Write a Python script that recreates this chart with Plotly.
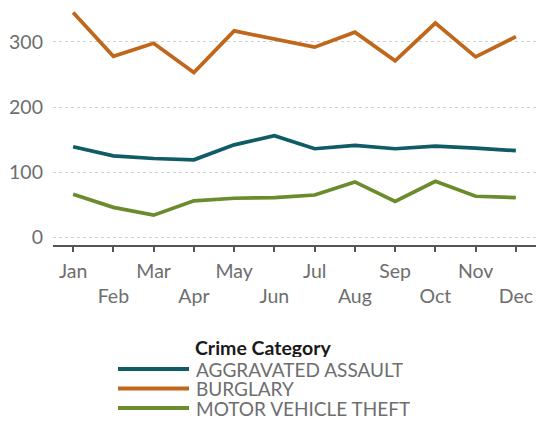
import plotly.graph_objects as go

months = ["Jan", "Feb", "Mar", "Apr", "May", "Jun",
          "Jul", "Aug", "Sep", "Oct", "Nov", "Dec"]
categories = ["AGGRAVATED ASSAULT", "BURGLARY", "MOTOR VEHICLE THEFT"]
aggravated_assault = [139, 125, 121, 119, 142, 156, 136, 141, 136, 140, 137, 133]
burglary = [345, 278, 298, 253, 317, 305, 292, 315, 271, 329, 277, 308]
motor_vehicle_theft = [66, 46, 34, 56, 60, 61, 65, 85, 55, 86, 63, 61]
y_ticks = [0, 100, 200, 300]

series = [aggravated_assault, burglary, motor_vehicle_theft]
colors = ["#0F5C66", "#C0671C", "#6B8C2C"]

FONT = "Lato, 'Open Sans', sans-serif"
GREY = "#6e6e6e"
TICK_SIZE = 19.5

fig = go.Figure()
idx = list(range(len(months)))
for name, vals, col in zip(categories, series, colors):
    fig.add_trace(go.Scatter(
        x=idx, y=vals, name=name, mode="lines",
        line=dict(color=col, width=3.7),
        showlegend=False,
        hovertemplate="%{text}: %{y}<extra>" + name + "</extra>",
        text=months,
    ))

# empty trace so the second-row month axis is drawn
fig.add_trace(go.Scatter(x=[], y=[], xaxis="x2", showlegend=False, hoverinfo="skip"))

odd_labels = [m if i % 2 == 0 else "" for i, m in enumerate(months)]
even_labels = [m if i % 2 == 1 else "" for i, m in enumerate(months)]

x_range = [-0.5, len(months) - 0.5]

fig.update_layout(
    width=538, height=421,
    margin=dict(l=53, r=2, t=5, b=176),
    paper_bgcolor="white", plot_bgcolor="white",
    font=dict(family=FONT, color=GREY, size=18),
    xaxis=dict(
        range=x_range, tickmode="array", tickvals=idx, ticktext=odd_labels,
        showgrid=False, zeroline=False,
        showline=True, linecolor="#555555", linewidth=1.5,
        ticks="outside", ticklen=5, tickwidth=1.5, tickcolor="#555555",
        tickfont=dict(size=TICK_SIZE, color=GREY, family=FONT),
        ticklabelstandoff=3,
    ),
    xaxis2=dict(
        overlaying="x", anchor="y", side="bottom",
        range=x_range, tickmode="array", tickvals=idx, ticktext=even_labels,
        showgrid=False, zeroline=False, showline=False, ticks="",
        tickfont=dict(size=TICK_SIZE, color=GREY, family=FONT),
        ticklabelstandoff=37,
    ),
    yaxis=dict(
        range=[-11.8, 356.7], tickmode="array", tickvals=y_ticks,
        showgrid=True, gridcolor="#cfcfcf", gridwidth=1, griddash="dot",
        zeroline=False, showline=False, ticks="",
        tickfont=dict(size=TICK_SIZE, color=GREY, family=FONT),
        ticklabelstandoff=9,
    ),
    hovermode="closest",
)

# legend block below the chart
def px_x(p):
    return (p - 53) / 483

def px_y(p):
    return (245 - p) / 240

fig.add_annotation(
    xref="paper", yref="paper", x=px_x(193), y=px_y(347),
    text="<b>Crime Category</b>", showarrow=False,
    xanchor="left", yanchor="middle", height=19,
    font=dict(family=FONT, size=19.5, color="#1a1a1a"),
)
for k, (name, col) in enumerate(zip(categories, colors)):
    yy = px_y(369 + 19.5 * k)
    fig.add_shape(
        type="line", xref="paper", yref="paper",
        x0=px_x(118), x1=px_x(189), y0=yy, y1=yy,
        line=dict(color=col, width=4),
    )
    fig.add_annotation(
        xref="paper", yref="paper", x=px_x(194), y=yy,
        text=name, showarrow=False, xanchor="left", yanchor="middle",
        height=19,
        font=dict(family=FONT, size=19, color=GREY),
    )

fig.write_html("out.html")
